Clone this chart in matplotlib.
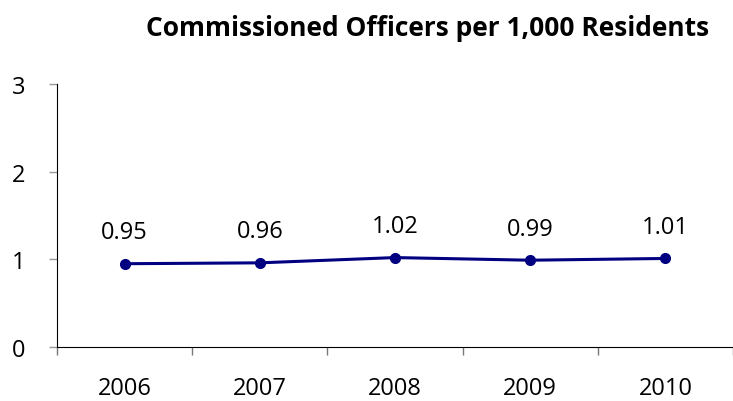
import matplotlib
matplotlib.use("Agg")
import matplotlib.pyplot as plt

years = ["2006", "2007", "2008", "2009", "2010"]
values = [0.95, 0.96, 1.02, 0.99, 1.01]
labels = ["0.95", "0.96", "1.02", "0.99", "1.01"]
yticks = [0, 1, 2, 3]

plt.rcParams['font.family'] = ['Open Sans', 'DejaVu Sans']

fig = plt.figure(figsize=(7.33, 4.02), dpi=100)
W, H = 733, 402
ax = fig.add_axes([57 / W, 1 - 348 / H, (733 - 57) / W, (348 - 85) / H])

x = list(range(len(years)))
ax.plot(x, values, color="#000080", lw=2.2, marker="o", ms=7, zorder=3, clip_on=False)
for xi, v, lab in zip(x, values, labels):
    ax.annotate(lab, (xi, v), xytext=(0, 14), textcoords="offset points",
                ha="center", va="bottom", fontsize=17, color="black")

ax.set_xlim(-0.5, 4.5 - 9 / 137)
ax.set_ylim(0, 3)
ax.set_yticks(yticks)
ax.set_yticklabels([str(t) for t in yticks], fontsize=17)
ax.set_xticks([i + 0.5 for i in range(-1, 5)])
ax.set_xticklabels([])
ax.set_xticks(x, minor=True)
ax.set_xticklabels(years, minor=True, fontsize=17)
ax.tick_params(axis="x", which="minor", length=0, pad=21)
ax.tick_params(axis="x", which="major", length=6, width=1, color="#777777", direction="out")
ax.tick_params(axis="y", length=6, width=1, color="#999999", direction="out", pad=17)
for s in ["top", "right"]:
    ax.spines[s].set_visible(False)
ax.spines["left"].set_color("black")
ax.spines["bottom"].set_color("black")

fig.text(428 / W, 1 - 28 / H, "Commissioned Officers per 1,000 Residents",
         ha="center", va="center", fontsize=19, fontweight="bold")

fig.savefig("out.png", dpi=100)
